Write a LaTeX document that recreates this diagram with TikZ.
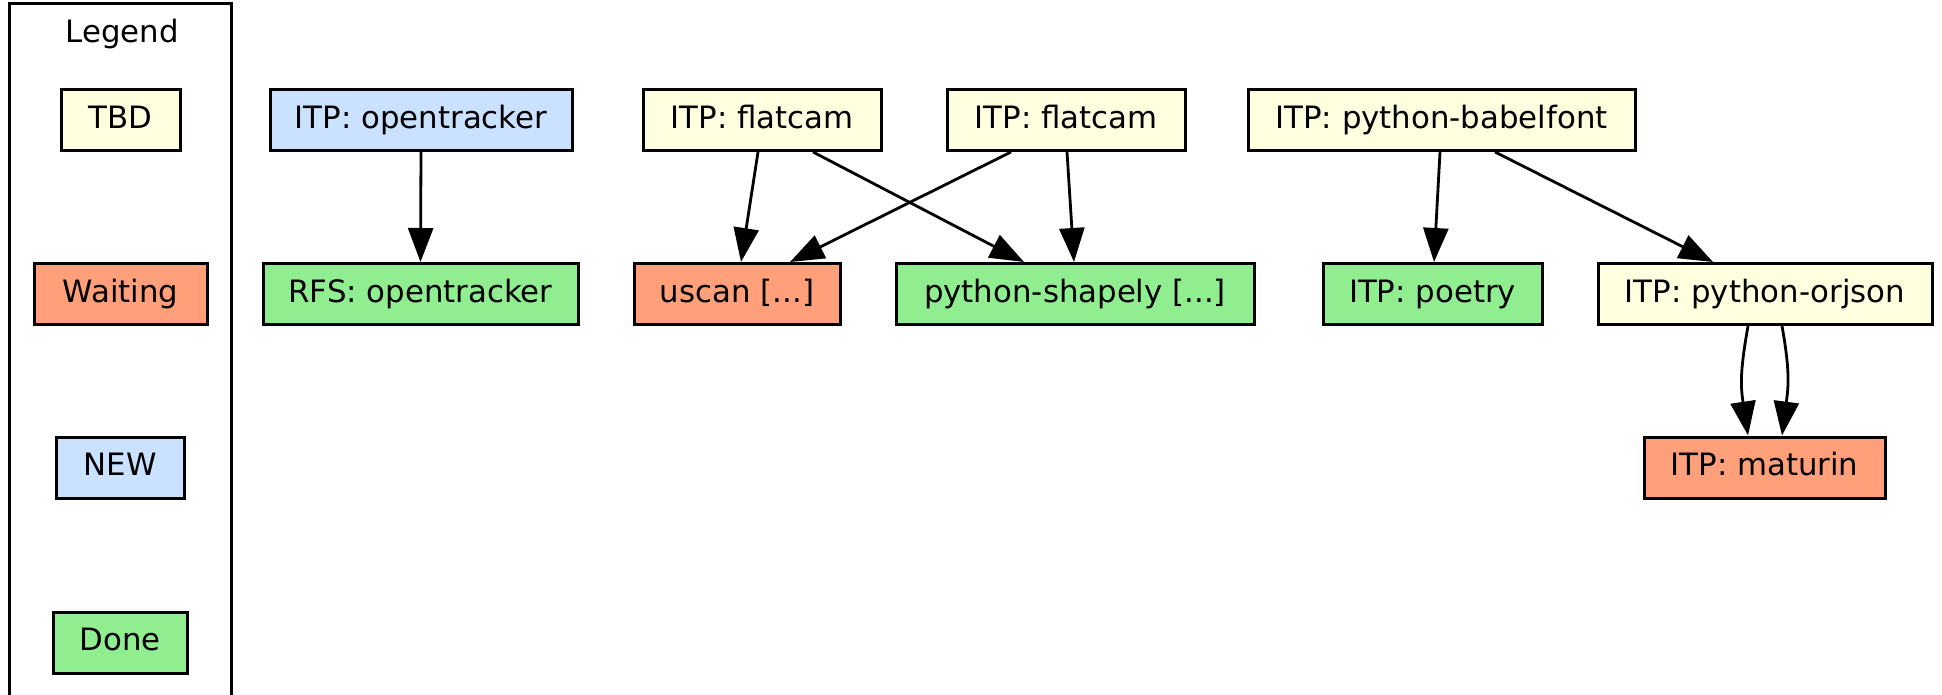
\documentclass[tikz,border=0pt]{standalone}
\usepackage{fontspec}
\setmainfont{DejaVu Sans}
\usetikzlibrary{arrows.meta,calc}
\definecolor{cTBD}{HTML}{FFFFE0}
\definecolor{cWait}{HTML}{FFA07A}
\definecolor{cNew}{HTML}{CAE1FF}
\definecolor{cDone}{HTML}{90EE90}
\begin{document}
\begin{tikzpicture}[x=0.5pt,y=-0.5pt,
  box/.style={draw=black, line width=1.5pt, rectangle, minimum height=30.5pt,
    inner sep=0pt, text height=11.2pt, text depth=3pt,
    font=\fontsize{15.4}{18}\selectfont},
  tbdbox/.style={box, fill=cTBD},
  waitbox/.style={box, fill=cWait},
  newbox/.style={box, fill=cNew},
  donebox/.style={box, fill=cDone},
  edge/.style={-{Triangle[length=17pt,width=12.5pt]}, line width=1.4pt},
  legendframe/.style={draw=black, line width=1.5pt},
]
\useasboundingbox (0,0) rectangle (1942,695);
% legend cluster
\draw[legendframe] (9,4) rectangle (231,720);
\node[anchor=base, font=\fontsize{15.4}{18}\selectfont] (legtitle) at (122,43) {Legend};
\node[tbdbox, minimum width=59.5pt] (lTBD) at (120.5,120) {TBD};
\node[waitbox, minimum width=86.5pt] (lWait) at (120.5,294) {Waiting};
\node[newbox, minimum width=64pt] (lNew) at (120,467.5) {NEW};
\node[donebox, minimum width=67pt] (lDone) at (120,642.5) {Done};
% main nodes
\node[newbox, minimum width=151pt] (ot) at (421,120) {ITP: opentracker};
\node[donebox, minimum width=157.5pt] (rfs) at (420.5,294) {RFS: opentracker};
\node[tbdbox, minimum width=119pt] (fc1) at (762,120) {ITP: flatcam};
\node[tbdbox, minimum width=119pt] (fc2) at (1066,120) {ITP: flatcam};
\node[tbdbox, minimum width=193.5pt] (bab) at (1441.5,120) {ITP: python-babelfont};
\node[waitbox, minimum width=103pt] (usc) at (737,294) {uscan [...]};
\node[donebox, minimum width=179pt] (shp) at (1075,294) {python-shapely [...]};
\node[donebox, minimum width=109.5pt] (poe) at (1432.5,294) {ITP: poetry};
\node[tbdbox, minimum width=167pt] (orj) at (1765,294) {ITP: python-orjson};
\node[waitbox, minimum width=120.5pt] (mat) at (1764.5,467.5) {ITP: maturin};
% edges
\draw[edge] (ot.south) -- (rfs.north);
\draw[edge] ($(fc1.south)+(-4,0)$) -- ($(usc.north)+(4,0)$);
\draw[edge] ($(fc1.south)+(51,0)$) -- ($(shp.north)+(-51,0)$);
\draw[edge] ($(fc2.south)+(-55,0)$) -- ($(usc.north)+(53,0)$);
\draw[edge] ($(fc2.south)+(1,0)$) -- ($(shp.north)+(-1,0)$);
\draw[edge] ($(bab.south)+(-1.5,0)$) -- ($(poe.north)+(1.5,0)$);
\draw[edge] ($(bab.south)+(53.5,0)$) -- ($(orj.north)+(-52,0)$);
\draw[edge] ($(orj.south)+(-17,0)$) .. controls ($(orj.south)+(-25,45)$) and ($(mat.north)+(-24,-50)$) .. ($(mat.north)+(-16.5,0)$);
\draw[edge] ($(orj.south)+(17,0)$) .. controls ($(orj.south)+(25,45)$) and ($(mat.north)+(24,-50)$) .. ($(mat.north)+(17.5,0)$);
\end{tikzpicture}
\end{document}
